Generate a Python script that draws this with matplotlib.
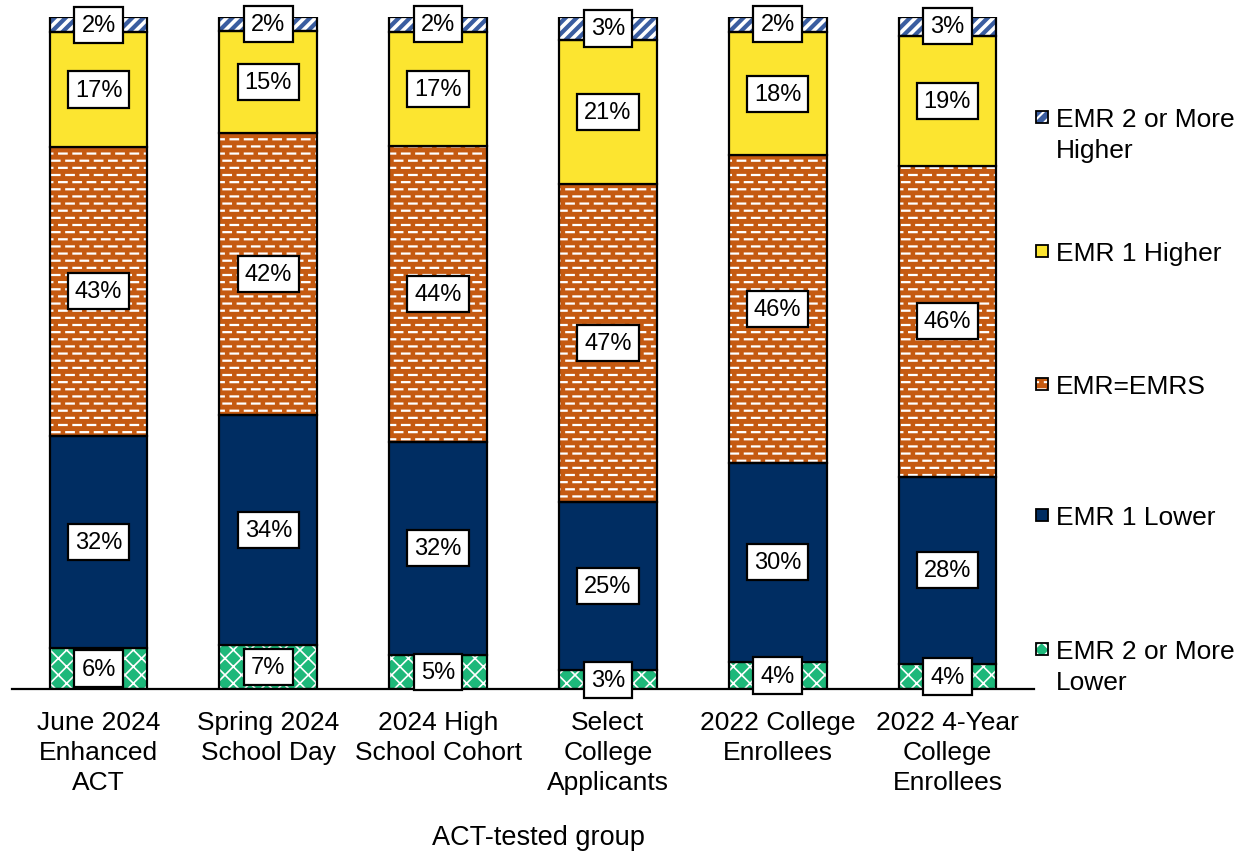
import numpy as np
import matplotlib
matplotlib.use("Agg")
import matplotlib.pyplot as plt
import matplotlib.hatch as mhatch
from matplotlib.path import Path
from matplotlib.patches import Rectangle

plt.rcParams['font.family'] = ['Liberation Sans', 'DejaVu Sans']

# ---------------- data ----------------
categories = ["June 2024\nEnhanced\nACT", "Spring 2024\nSchool Day",
              "2024 High\nSchool Cohort", "Select\nCollege\nApplicants",
              "2022 College\nEnrollees", "2022 4-Year\nCollege\nEnrollees"]
series_names = ["EMR 2 or More\nLower", "EMR 1 Lower", "EMR=EMRS",
                "EMR 1 Higher", "EMR 2 or More\nHigher"]
lower2 = [6.1, 6.6, 5.1, 2.8, 4.0, 3.7]
lower1 = [31.6, 34.1, 31.7, 25.1, 29.7, 27.9]
equal = [43.0, 42.0, 44.0, 47.3, 45.7, 46.2]
higher1 = [17.0, 15.2, 17.0, 21.4, 18.4, 19.4]
higher2 = [2.3, 2.1, 2.2, 3.4, 2.2, 2.8]
xlabel = "ACT-tested group"

# ---------------- custom dashed horizontal hatch ----------------
class DashedHorizontalHatch(mhatch.HatchPatternBase):
    def __init__(self, hatch, density):
        n = hatch.count('-')
        segs = []
        if n:
            rows = 14
            per = 7
            P = 1.0 / per
            L = 0.075
            for r in range(rows):
                y = (r + 0.5) / rows
                off = 0.02 + (P / 2 if r % 2 else 0.0)
                for k in range(per):
                    a = off + k * P
                    b = a + L
                    if b <= 1.0:
                        segs.append((a, b, y))
                    else:
                        segs.append((a, 1.0, y))
                        segs.append((0.0, b - 1.0, y))
        self.segs = segs
        self.num_vertices = len(segs) * 2

    def set_vertices_and_codes(self, vertices, codes):
        for i, (a, b, y) in enumerate(self.segs):
            vertices[2 * i] = (a, y)
            vertices[2 * i + 1] = (b, y)
            codes[2 * i] = Path.MOVETO
            codes[2 * i + 1] = Path.LINETO

mhatch._hatch_types[0] = DashedHorizontalHatch

# ---------------- styles ----------------
colors = ['#1DB87A', '#002D62', '#C55A11', '#FCE530', '#3A5DA0']
hatches = ['xx', None, '-', None, '///']
hatch_lw = [1.2, 1.0, 1.6, 1.0, 2.6]

plt.rcParams['hatch.linewidth'] = 1.5

fig = plt.figure(figsize=(12.45, 8.54), dpi=100)
W, H = 1245, 854
ax = fig.add_axes([12 / W, 1 - 690 / H, (1034 - 12) / W, (690 - 18) / H])

x = np.arange(len(categories))
width = 0.576
data = [lower2, lower1, equal, higher1, higher2]
bottom = np.zeros(len(categories))
for vals, col, hat, hlw in zip(data, colors, hatches, hatch_lw):
    vals = np.array(vals)
    if hat:
        bars = ax.bar(x, vals, width, bottom=bottom, color=col,
                      edgecolor='white', hatch=hat, linewidth=0, zorder=2)
        for b in bars:
            if hasattr(b, 'set_hatch_linewidth'):
                b.set_hatch_linewidth(hlw)
    ax.bar(x, vals, width, bottom=bottom,
           color=(col if not hat else 'none'),
           edgecolor='black', linewidth=1.6, zorder=3)
    for xi, b0, v in zip(x, bottom, vals):
        ax.text(xi, b0 + v / 2, f"{v:.0f}%", ha='center', va='center',
                fontsize=17, zorder=5,
                bbox=dict(boxstyle='square,pad=0.3', fc='white',
                          ec='black', lw=1.6))
    bottom = bottom + vals

ax.set_xlim(-0.51, 5.51)
ax.set_ylim(0, 100)
ax.set_yticks([])
for s in ['top', 'right', 'left']:
    ax.spines[s].set_visible(False)
ax.spines['bottom'].set_linewidth(1.6)
ax.spines['bottom'].set_zorder(4)
ax.set_xticks(x, categories, fontsize=19, linespacing=1.31)
ax.tick_params(axis='x', length=0, pad=15)
ax.set_xlabel(xlabel, fontsize=19.5)
ax.xaxis.set_label_coords((538 - 12) / (1034 - 12), (690 - 838) / (690 - 18))
ax.xaxis.label.set_va('center')

# ---------------- legend (manual) ----------------
leg_y = [650, 516, 385, 252, 118]  # first-line centres, bottom series first
for name, col, hat, hlw, yc in zip(series_names, colors, hatches, hatch_lw, leg_y):
    x0, s = 1036, 12
    rect_args = ((x0 / W, 1 - (yc + s / 2) / H), s / W, s / H)
    if hat:
        r = Rectangle(*rect_args, transform=fig.transFigure, fc=col,
                      ec='white', hatch=hat, lw=0)
        fig.add_artist(r)
        r2 = Rectangle(*rect_args, transform=fig.transFigure, fc='none',
                       ec='black', lw=1.3)
        fig.add_artist(r2)
    else:
        r = Rectangle(*rect_args, transform=fig.transFigure, fc=col,
                      ec='black', lw=1.3)
        fig.add_artist(r)
    fig.text(1056 / W, 1 - (yc - 10) / H, name, ha='left', va='top',
             fontsize=19, linespacing=1.35)

fig.savefig("out.png", dpi=100)
